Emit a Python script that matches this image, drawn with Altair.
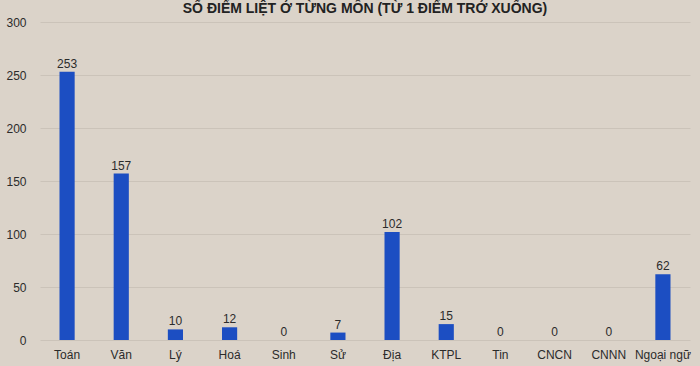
import altair as alt
import pandas as pd

subjects = ["Toán", "Văn", "Lý", "Hoá", "Sinh", "Sử", "Địa", "KTPL", "Tin", "CNCN", "CNNN", "Ngoại ngữ"]
counts = [253, 157, 10, 12, 0, 7, 102, 15, 0, 0, 0, 62]
title_text = "SỐ ĐIỂM LIỆT Ở TỪNG MÔN (TỪ 1 ĐIỂM TRỞ XUỐNG)"

df = pd.DataFrame({"mon": subjects, "so": counts})

x = alt.X("mon:N", sort=subjects, title=None,
          scale=alt.Scale(paddingInner=0.72, paddingOuter=0.36),
          axis=alt.Axis(labelAngle=0, labelFont="Liberation Sans", labelFontSize=12,
                        labelColor="#2b2b2b", domain=False, ticks=False, labelPadding=9))
y = alt.Y("so:Q", title=None,
          scale=alt.Scale(domain=[0, 300]),
          axis=alt.Axis(values=[0, 50, 100, 150, 200, 250, 300], labelFont="Liberation Sans",
                        labelFontSize=12, labelColor="#2b2b2b", domain=False, ticks=False,
                        gridColor="#cbc3b9", labelPadding=14))

bars = alt.Chart(df).mark_bar(color="#1c4ec2").encode(x=x, y=y)
labels = alt.Chart(df).mark_text(dy=-8, font="Liberation Sans", fontSize=12, color="#2b2b2b").encode(
    x=alt.X("mon:N", sort=subjects), y="so:Q", text="so:Q")
title = alt.Chart(pd.DataFrame({"t": [title_text]})).mark_text(
    font="Liberation Sans", fontSize=14, fontWeight="bold", color="#222222", baseline="middle"
).encode(text="t:N", x=alt.value(325), y=alt.value(-13))

chart = alt.layer(bars, labels, title).properties(
    width=650, height=318,
    autosize=alt.AutoSizeParams(type="none"),
    padding={"left": 40, "top": 22, "right": 10, "bottom": 26},
    background="#dbd3c9",
).configure_view(strokeWidth=0)

chart.save("out.html", embed_options={"renderer": "svg", "actions": False})
